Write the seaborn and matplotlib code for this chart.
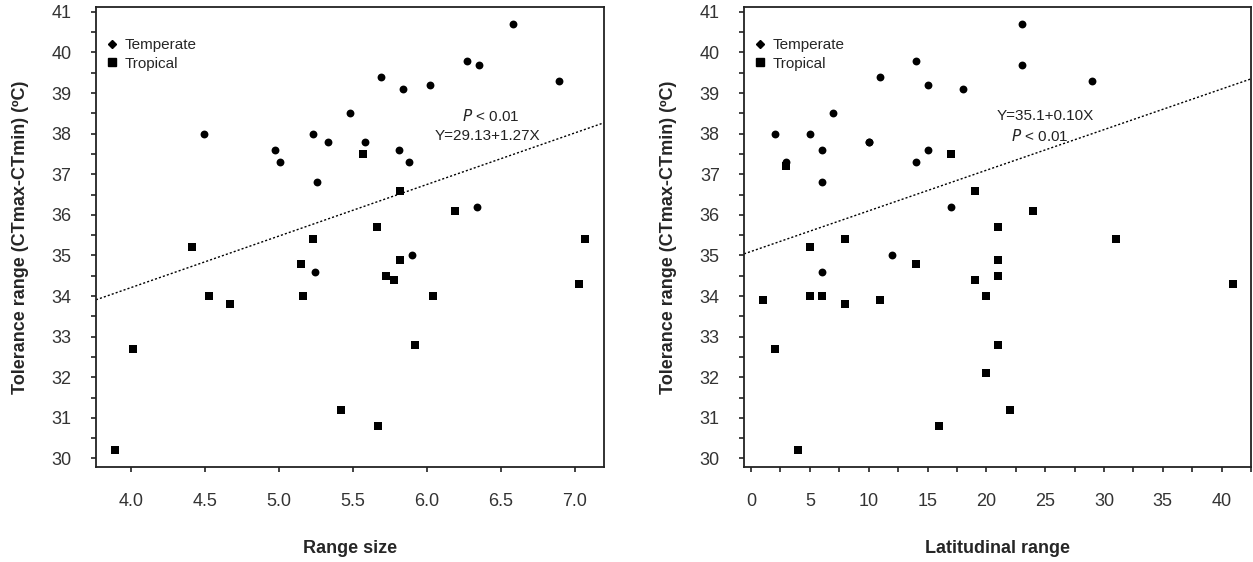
import numpy as np
import pandas as pd
import matplotlib
matplotlib.use("Agg")
import matplotlib.pyplot as plt
from matplotlib.lines import Line2D
from matplotlib.ticker import MultipleLocator
import seaborn as sns

# Panel A: range size vs thermal tolerance range
range_temperate_x = [4.49, 4.97, 5.01, 5.23, 5.33, 5.26, 5.48, 5.58, 5.69, 5.81,
                     5.84, 5.88, 6.02, 6.27, 6.35, 6.58, 6.89, 6.34, 5.90, 5.24]
range_temperate_y = [38.0, 37.6, 37.3, 38.0, 37.8, 36.8, 38.5, 37.8, 39.4, 37.6,
                     39.1, 37.3, 39.2, 39.8, 39.7, 40.7, 39.3, 36.2, 35.0, 34.6]
range_tropical_x = [5.57, 5.82, 6.19, 5.66, 5.23, 4.41, 5.15, 5.82, 5.72, 5.78,
                    7.07, 3.89, 4.01, 4.53, 4.67, 5.16, 5.42, 5.67, 5.92, 6.04, 7.03]
range_tropical_y = [37.5, 36.6, 36.1, 35.7, 35.4, 35.2, 34.8, 34.9, 34.5, 34.4,
                    35.4, 30.2, 32.7, 34.0, 33.8, 34.0, 31.2, 30.8, 32.8, 34.0, 34.3]

# Panel B: latitudinal range vs thermal tolerance range
lat_temperate_x = [2, 3, 5, 6, 6, 7, 10, 10, 11, 14, 14, 15, 15, 18, 17, 12, 6, 23, 23, 29]
lat_temperate_y = [38.0, 37.3, 38.0, 37.6, 36.8, 38.5, 37.8, 37.8, 39.4, 39.8,
                   37.3, 39.2, 37.6, 39.1, 36.2, 35.0, 34.6, 40.7, 39.7, 39.3]
lat_tropical_x = [17, 3, 19, 24, 21, 8, 31, 5, 14, 21, 21, 19, 1, 2, 4, 5, 6, 8,
                  11, 16, 20, 21, 20, 22, 41]
lat_tropical_y = [37.5, 37.2, 36.6, 36.1, 35.7, 35.4, 35.4, 35.2, 34.8, 34.9, 34.5,
                  34.4, 33.9, 32.7, 30.2, 34.0, 34.0, 33.8, 33.9, 30.8, 34.0, 32.8,
                  32.1, 31.2, 34.3]

# Fitted regressions (intercept, slope)
range_fit = (29.13, 1.27)
lat_fit = (35.1, 0.10)

y_label = "Tolerance range (CTmax-CTmin) (ºC)"

sns.set_theme(style="white")
plt.rcParams["font.family"] = ["Liberation Sans", "DejaVu Sans"]

fig = plt.figure(figsize=(12.53, 5.62), dpi=100)
ax1 = fig.add_axes([0.0766, 0.169, 0.4054, 0.8185])
ax2 = fig.add_axes([0.5938, 0.169, 0.4046, 0.8185])


def make_df(tx, ty, px, py):
    return pd.DataFrame({
        "x": list(tx) + list(px),
        "y": list(ty) + list(py),
        "zone": ["Temperate"] * len(tx) + ["Tropical"] * len(px),
    })


def draw_panel(ax, df, fit, xlim, xlabel, major, minor_x, texts):
    sns.scatterplot(data=df[df.zone == "Temperate"], x="x", y="y", ax=ax,
                    marker="o", s=32, color="black", edgecolor="black", linewidth=0)
    sns.scatterplot(data=df[df.zone == "Tropical"], x="x", y="y", ax=ax,
                    marker="s", s=40, color="black", edgecolor="black", linewidth=0)
    ax.set_xlim(*xlim)
    ax.set_ylim(29.79, 41.12)
    xs = np.array(xlim)
    ax.plot(xs, fit[0] + fit[1] * xs, color="black", lw=1.0,
            linestyle=(0, (1.5, 1.5)), zorder=1)

    ax.xaxis.set_major_locator(MultipleLocator(major))
    if minor_x:
        ax.xaxis.set_minor_locator(MultipleLocator(minor_x))
    ax.yaxis.set_major_locator(MultipleLocator(1))
    ax.yaxis.set_minor_locator(MultipleLocator(0.5))
    ax.tick_params(axis="both", which="major", direction="out", length=3.5, width=1.2,
                   color="#222222", labelsize=13, labelcolor="#333333")
    ax.tick_params(axis="both", which="minor", direction="out", length=3.5, width=1.2,
                   color="#222222")
    ax.tick_params(axis="x", which="both", bottom=True, pad=15)
    ax.tick_params(axis="y", which="both", left=True, pad=14)
    for sp in ax.spines.values():
        sp.set_color("#222222")
        sp.set_linewidth(1.3)

    ax.set_xlabel(xlabel, fontsize=13, fontweight="bold", labelpad=22)
    ax.set_ylabel(y_label, fontsize=13, fontweight="bold", labelpad=16)

    for (tx, ty, s) in texts:
        ax.text(tx, ty, s, ha="center", va="center", fontsize=11, color="#222222")

    handles = [
        Line2D([], [], marker="D", color="black", linestyle="none", markersize=4.5),
        Line2D([], [], marker="s", color="black", linestyle="none", markersize=5.5),
    ]
    ax.legend(handles, ["Temperate", "Tropical"], loc="upper left",
              bbox_to_anchor=(-0.008, 0.962), frameon=False, fontsize=11,
              handlelength=0.8, handletextpad=0.45, labelspacing=0.3,
              borderaxespad=0.5)


draw_panel(ax1, make_df(range_temperate_x, range_temperate_y,
                        range_tropical_x, range_tropical_y),
           range_fit, (3.763, 7.196), "Range size", 0.5, None,
           [(6.43, 38.44, r"$\it{P}$ < 0.01"),
            (6.41, 37.94, f"Y={range_fit[0]:.2f}+{range_fit[1]:.2f}X")])

draw_panel(ax2, make_df(lat_temperate_x, lat_temperate_y,
                        lat_tropical_x, lat_tropical_y),
           lat_fit, (-0.6, 42.5), "Latitudinal range", 5, 2.5,
           [(25.0, 38.44, f"Y={lat_fit[0]:.1f}+{lat_fit[1]:.2f}X"),
            (24.5, 37.95, r"$\it{P}$ < 0.01")])

fig.savefig("out.png", dpi=100)
